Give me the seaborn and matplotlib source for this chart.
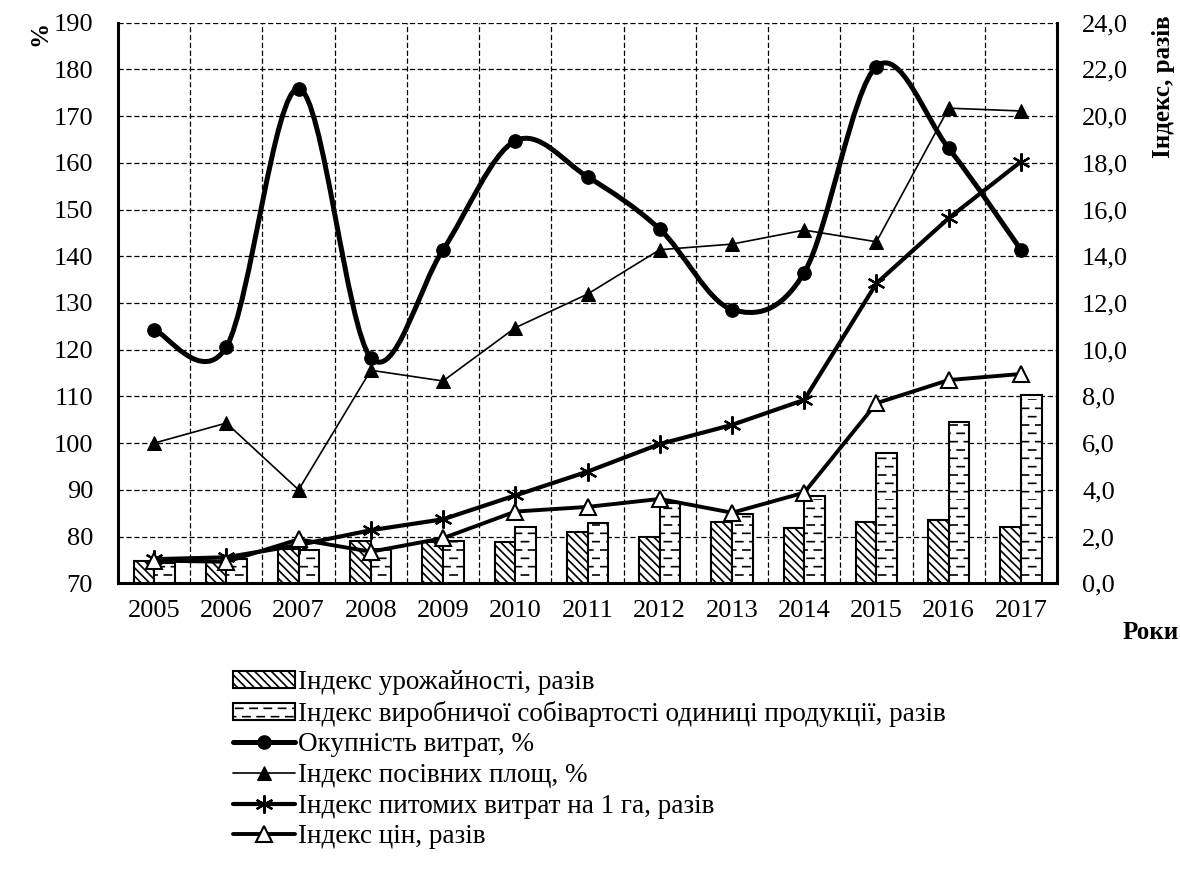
import numpy as np
import pandas as pd
import matplotlib
matplotlib.use('Agg')
import matplotlib.pyplot as plt
import matplotlib.hatch as mhatch
from matplotlib.path import Path
from matplotlib.patches import PathPatch
from matplotlib.lines import Line2D
from matplotlib.ticker import FuncFormatter
import seaborn as sns

# data
years = ['2005', '2006', '2007', '2008', '2009', '2010', '2011',
         '2012', '2013', '2014', '2015', '2016', '2017']
urozhainist = [0.97, 0.93, 1.46, 1.82, 1.78, 1.78, 2.18, 2.00, 2.64, 2.35, 2.64, 2.71, 2.42]
sobivartist = [0.86, 1.03, 1.43, 1.46, 1.82, 2.40, 2.57, 3.42, 2.95, 3.75, 5.56, 6.89, 8.06]
okupnist = [124.3, 120.6, 175.9, 118.3, 141.4, 164.7, 157.0, 145.8, 128.6, 136.5, 180.6, 163.1, 141.4]
posivni = [100.0, 104.3, 90.0, 115.6, 113.3, 124.7, 131.9, 141.4, 142.6, 145.6, 143.1, 171.7, 171.1]
pytomi = [1.03, 1.11, 1.64, 2.27, 2.74, 3.76, 4.78, 5.96, 6.78, 7.85, 12.84, 15.63, 18.05]
tsiny = [0.97, 0.92, 1.88, 1.35, 1.93, 3.07, 3.27, 3.61, 3.02, 3.88, 7.71, 8.70, 8.96]

labels = ['Індекс урожайності, разів',
          'Індекс виробничої собівартості одиниці продукції, разів',
          'Окупність витрат, %',
          'Індекс посівних площ, %',
          'Індекс питомих витрат на 1 га, разів',
          'Індекс цін, разів']


# horizontal hatch drawn as staggered short dashes (like the Excel pattern)
class DashHatch(mhatch.HatchPatternBase):
    def __init__(self, hatch, density):
        self.num_lines = int((hatch.count('-') + hatch.count('+')) * density)
        self.num_dashes = 7
        self.num_vertices = self.num_lines * self.num_dashes * 2

    def set_vertices_and_codes(self, vertices, codes):
        step = 1.0 / self.num_dashes
        k = 0
        for i in range(self.num_lines):
            y = i / self.num_lines
            shift = step / 2 if i % 2 else 0.0
            for j in range(self.num_dashes):
                x0 = j * step + shift
                vertices[k] = (x0, y)
                vertices[k + 1] = (x0 + step / 2, y)
                codes[k] = Path.MOVETO
                codes[k + 1] = Path.LINETO
                k += 2


mhatch._hatch_types[0] = DashHatch

sns.set_theme(style='white')
plt.rcParams['font.family'] = ['Liberation Serif', 'DejaVu Serif']
plt.rcParams['text.color'] = 'black'
plt.rcParams['hatch.linewidth'] = 1.2
plt.rcParams['hatch.color'] = 'black'

pos = np.arange(len(years))

bars = pd.DataFrame({
    'year': years * 2,
    'value': urozhainist + sobivartist,
    'series': [labels[0]] * len(years) + [labels[1]] * len(years),
})

fig = plt.figure(figsize=(11.8, 8.89), dpi=100)
ax = fig.add_axes([0.1, 0.3439, 0.7958, 0.6306])
ax2 = ax.twinx()

# bars on the right axis
sns.barplot(data=bars, x='year', y='value', hue='series', ax=ax2,
            palette=['white', 'white'], edgecolor='black', linewidth=1.5,
            width=0.57, errorbar=None, saturation=1, legend=False, zorder=1)
for p in ax2.containers[0].patches:
    p.set_hatch('\\\\\\\\')
for p in ax2.containers[1].patches:
    p.set_hatch('--')


# smoothed line for Окупність (Bezier through the points, like Excel smoothing)
def smooth_path(x, y):
    pts = np.column_stack([x, y]).astype(float)
    ext = np.vstack([pts[0], pts, pts[-1]])
    verts = [pts[0]]
    codes = [Path.MOVETO]
    for i in range(len(pts) - 1):
        p0, p1, p2, p3 = ext[i], ext[i + 1], ext[i + 2], ext[i + 3]
        verts += [p1 + (p2 - p0) / 6, p2 - (p3 - p1) / 6, p2]
        codes += [Path.CURVE4] * 3
    return Path(verts, codes)


ax.add_patch(PathPatch(smooth_path(pos, okupnist), fill=False, edgecolor='black',
                       linewidth=3.6, capstyle='round', zorder=3))
sns.scatterplot(x=pos, y=okupnist, ax=ax, marker='o', s=95, color='black',
                edgecolor='black', zorder=4)

sns.lineplot(x=pos, y=posivni, ax=ax, color='black', linewidth=1.2,
             marker='^', markersize=10, markerfacecolor='black',
             markeredgecolor='black', zorder=3)
line_posivni = ax.lines[-1]

sns.lineplot(x=pos, y=pytomi, ax=ax2, color='black', linewidth=3,
             marker=(6, 2, 0), markersize=13, markeredgewidth=1.6,
             markeredgecolor='black', zorder=3)
line_pytomi = ax2.lines[-1]

sns.lineplot(x=pos, y=tsiny, ax=ax2, color='black', linewidth=2.8,
             marker='^', markersize=11, markerfacecolor='white',
             markeredgecolor='black', markeredgewidth=1.5, zorder=4)
line_tsiny = ax2.lines[-1]

# axes
for a in (ax, ax2):
    a.set_xlim(-0.5, len(years) - 0.5)
    a.set_xlabel('')
    a.set_ylabel('')
    a.spines['top'].set_visible(False)
ax.set_ylim(70, 190)
ax.set_yticks(np.arange(70, 191, 10))
ax2.set_ylim(0, 24)
ax2.set_yticks(np.arange(0, 25, 2))
ax2.yaxis.set_major_formatter(FuncFormatter(lambda v, _: f'{v:.1f}'.replace('.', ',')))
ax.set_xticks(pos)
ax.set_xticklabels(years)
ax.set_xticks(np.arange(0.5, len(years) - 1, 1), minor=True)

ax.spines['right'].set_visible(False)
ax2.spines['left'].set_visible(False)
ax2.spines['bottom'].set_visible(False)
ax.spines['left'].set_linewidth(2.2)
ax.spines['bottom'].set_linewidth(2.2)
ax2.spines['right'].set_linewidth(2.2)
for s in ('left', 'bottom'):
    ax.spines[s].set_color('black')
ax2.spines['right'].set_color('black')

grid_kw = dict(color='black', linewidth=0.9, linestyle=(0, (4.2, 2.1)))
ax.grid(axis='y', which='major', **grid_kw)
ax.grid(axis='x', which='minor', **grid_kw)
ax.grid(axis='x', which='major', visible=False)
ax2.grid(False)

ax.tick_params(axis='y', which='both', length=0, pad=18, labelsize=19, colors='black')
ax.tick_params(axis='x', which='both', length=0, pad=12, labelsize=19, colors='black')
ax2.tick_params(axis='y', length=0, pad=18, labelsize=19, colors='black')
ax2.tick_params(axis='x', length=0, labelbottom=False)

# axis titles
fig.text(0.034, 0.977, '%', rotation=90, ha='center', va='top',
         fontsize=18, fontweight='bold')
fig.text(0.9856, 0.983, 'Індекс, разів', rotation=90, ha='center', va='top',
         fontsize=18, fontweight='bold')
fig.text(0.975, 0.288, 'Роки', ha='center', va='center',
         fontsize=18, fontweight='bold')

# legend
okup_handle = Line2D([], [], color='black', linewidth=3.6, marker='o', markersize=9.5)
handles = [ax2.containers[0], ax2.containers[1], okup_handle,
           line_posivni, line_pytomi, line_tsiny]
fig.legend(handles, labels, loc='upper left', bbox_to_anchor=(0.1975, 0.2463),
           frameon=False, fontsize=19.5, handlelength=2.3, handleheight=0.6,
           handletextpad=0.08, labelspacing=0.21, borderpad=0, borderaxespad=0)

fig.savefig('out.png', dpi=100)
